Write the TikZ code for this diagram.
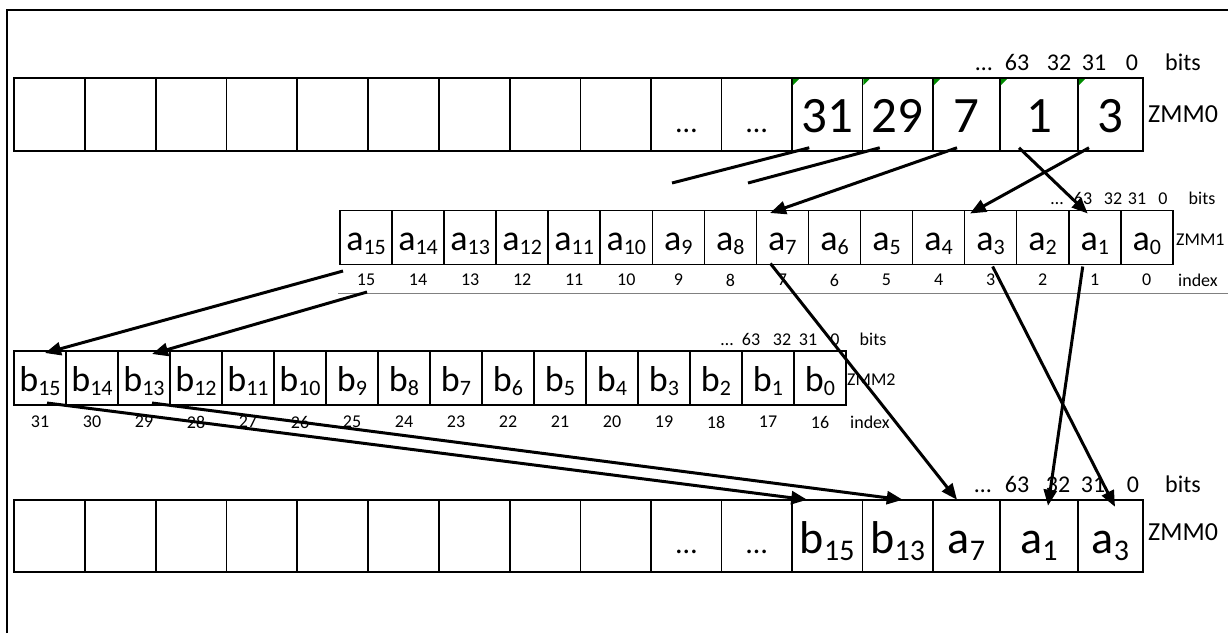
\documentclass[tikz,border=0pt]{standalone}
\usepackage{fontspec}
\setmainfont{Carlito}
\usetikzlibrary{arrows.meta,calc}
\newcommand\fs[1]{\fontsize{#1}{#1}\selectfont}
\newcommand\sbA[1]{\raisebox{-4pt}{\fs{22}#1}}
\newcommand\sbB[1]{\raisebox{-7pt}{\fs{30}#1}}
\tikzset{
  bigcell/.style={draw, line width=1.8pt, minimum height=72.5pt, inner sep=0pt, outer sep=0pt, text height=35pt, text depth=0pt, font=\fs{51}},
  midcell/.style={draw, line width=1.6pt, minimum width=52.05pt, minimum height=54pt, inner sep=0pt, outer sep=0pt, text height=26pt, text depth=0pt, font=\fs{36}},
  lblA/.style={inner sep=0pt, anchor=base, font=\fs{24}},
  lblB/.style={inner sep=0pt, anchor=base, font=\fs{18}},
  idx/.style={inner sep=0pt, font=\fs{18}},
  zlA/.style={inner sep=0pt, anchor=west, font=\fs{26}},
  zlB/.style={inner sep=0pt, anchor=west, font=\fs{18}},
  arr/.style={line width=3pt, -{Triangle[length=16pt,width=13pt]}},
  cutline/.style={line width=3pt},
  cmark/.style={fill=green!55!black}
}
\begin{document}
\begin{tikzpicture}[x=1pt,y=-1pt]
\useasboundingbox (0,0) rectangle (1228,633);
\draw[line width=2pt] (7,633) -- (7,10) -- (1228,10);

% top ZMM0 and bottom ZMM0
\foreach \i/\l/\r/\t/\u in {0/14/84.8/{}/{},1/84.8/155.6/{}/{},2/155.6/226.4/{}/{},3/226.4/297.2/{}/{},4/297.2/368/{}/{},5/368/438.8/{}/{},6/438.8/509.6/{}/{},7/509.6/580.4/{}/{},8/580.4/651.2/{}/{},9/651.2/721.5/{\fs{30}…}/{\fs{30}…},10/721.5/792/{\fs{30}…}/{\fs{30}…},11/792/862.5/31/{\fs{46}b\sbB{15}},12/862.5/933/29/{\fs{46}b\sbB{13}},13/933/1000/7/{\fs{46}a\sbB{7}},14/1000/1078/1/{\fs{46}a\sbB{1}},15/1078/1143/3/{\fs{46}a\sbB{3}}}{
  \pgfmathsetmacro\ww{\r-\l}
  \pgfmathsetmacro\cc{(\l+\r)/2}
  \node[bigcell, minimum width=\ww pt] (T\i) at (\cc,114.5) {\t};
  \node[bigcell, minimum width=\ww pt] (B\i) at (\cc,536) {\u};
}
\foreach \i in {11,...,15}{
  \fill[cmark] ([shift={(0.9pt,-0.9pt)}]T\i.north west) -- ++(6,0) -- ++(-6,6) -- cycle;
}
\node[lblA] (tb1) at (984,70) {…};
\node[lblA] (tb2) at (1017,70) {63};
\node[lblA] (tb3) at (1059,70) {32};
\node[lblA] (tb4) at (1094,70) {31};
\node[lblA] (tb5) at (1132,70) {0};
\node[lblA] (tb6) at (1183,70) {bits};
\node[zlA] (tz) at (1148,114.5) {ZMM0};

% ZMM1
\foreach \k in {0,...,15}{
  \pgfmathsetmacro\xx{340+52.05*(15-\k)+26.03}
  \node[midcell] (a\k) at (\xx,237.5) {a\sbA{\k}};
  \node[idx] (ia\k) at (\xx,280) {\k};
}
\node[lblB] (ab1) at (1057,204) {…};
\node[lblB] (ab2) at (1083,204) {63};
\node[lblB] (ab3) at (1113,204) {32};
\node[lblB] (ab4) at (1137,204) {31};
\node[lblB] (ab5) at (1163,204) {0};
\node[lblB] (ab6) at (1202,204) {bits};
\node[zlB] (az) at (1176,240) {ZMM1};
\node[zlB] (ai) at (1178,280) {index};
\draw[gray, line width=0.6pt] (338,293) -- (1228,293);

% ZMM2
\foreach \k in {0,...,15}{
  \pgfmathsetmacro\xx{14+52*(15-\k)+26}
  \pgfmathtruncatemacro\n{\k+16}
  \node[midcell] (b\k) at (\xx,378) {b\sbA{\k}};
  \node[idx] (ib\k) at (\xx,422) {\n};
}
\node[lblB] (bb1) at (727,345) {…};
\node[lblB] (bb2) at (751,345) {63};
\node[lblB] (bb3) at (782,345) {32};
\node[lblB] (bb4) at (808,345) {31};
\node[lblB] (bb5) at (835,345) {0};
\node[lblB] (bb6) at (873,345) {bits};
\node[zlB] (bz) at (847,380) {ZMM2};
\node[zlB] (bi) at (850,422) {index};

% bottom labels
\node[lblA] (cb1) at (983,492) {…};
\node[lblA] (cb2) at (1017,492) {63};
\node[lblA] (cb3) at (1058,492) {32};
\node[lblA] (cb4) at (1093,492) {31};
\node[lblA] (cb5) at (1133,492) {0};
\node[lblA] (cb6) at (1183,492) {bits};
\node[zlA] (cz) at (1148,532) {ZMM0};

% connectors top -> ZMM1
\coordinate (cut1) at (672,183);
\coordinate (cut2) at (748,183);
\draw[cutline] ([xshift=-18pt,yshift=3pt]T11.south) -- (cut1);
\draw[cutline] ([xshift=-18pt,yshift=3pt]T12.south) -- (cut2);
\draw[arr] ([xshift=-9.5pt,yshift=3pt]T13.south) -- ([xshift=-12.4pt,yshift=-2.5pt]a7.north);
\draw[arr] ([xshift=-21.5pt,yshift=3pt]T15.south) -- ([xshift=-20.6pt,yshift=-3pt]a3.north);
\draw[arr] ([xshift=-20pt,yshift=3pt]T14.south) -- ([xshift=-7pt,yshift=-3pt]a1.north);

% ZMM1 -> ZMM2
\draw[arr] ([xshift=-23pt,yshift=-6.5pt]a15.south) -- ([xshift=5pt,yshift=-2pt]b15.north);
\draw[arr] ([xshift=1pt,yshift=-27.5pt]a15.south) -- ([xshift=8pt,yshift=-3pt]b13.north);

% ZMM1 -> bottom
\draw[arr] ([xshift=-12pt,yshift=1pt]a7.south) -- ([xshift=-9.5pt,yshift=0pt]B13.north);
\draw[arr] ([xshift=2pt,yshift=-2pt]a3.south) -- ([xshift=4.5pt,yshift=-7pt]B15.north);
\draw[arr] ([xshift=-12pt,yshift=-2pt]a1.south) -- ([xshift=9pt,yshift=-6pt]B14.north);

% ZMM2 -> bottom
\draw[arr] ([xshift=7pt,yshift=2pt]b15.south) -- ([xshift=-20pt,yshift=0pt]B11.north);
\draw[arr] ([xshift=8pt,yshift=2pt]b13.south) -- ([xshift=5pt,yshift=0pt]B12.north);
\end{tikzpicture}
\end{document}
